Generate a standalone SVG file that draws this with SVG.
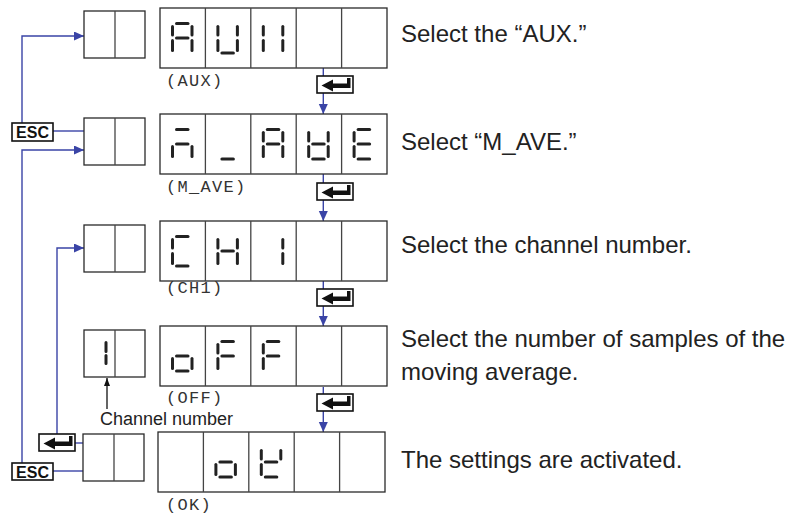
<svg xmlns="http://www.w3.org/2000/svg" xmlns:xlink="http://www.w3.org/1999/xlink" width="792" height="518" viewBox="0 0 792 518">
<style>
.box{fill:#fff;stroke:#2a2a2a;stroke-width:1.3}
.div{stroke:#444;stroke-width:1.3}
.seg{stroke:#222;stroke-width:3;stroke-linecap:round;fill:none}
.con{stroke:#3a44a6;stroke-width:1.4;fill:none}
.lbl{font-family:"Liberation Mono","Courier New",monospace;font-size:17px;letter-spacing:1.3px;fill:#333}
.txt{font-family:"Liberation Sans",Arial,Helvetica,sans-serif;font-size:24px;fill:#222}
.small{font-family:"Liberation Sans",Arial,Helvetica,sans-serif;font-size:18px;fill:#222}
.esc{font-family:"Liberation Sans",Arial,Helvetica,sans-serif;font-size:16px;font-weight:bold;fill:#111}
.key{fill:#fff;stroke:#111;stroke-width:1.6}
</style>
<defs>
<marker id="ab" markerUnits="userSpaceOnUse" markerWidth="10" markerHeight="10" refX="10" refY="4.5" orient="auto">
<path d="M0,0 L10,4.5 L0,9 z" fill="#3a44a6"/>
</marker>
<marker id="ak" markerUnits="userSpaceOnUse" markerWidth="8" markerHeight="7" refX="8" refY="3" orient="auto">
<path d="M0,0 L8,3 L0,6 z" fill="#111"/>
</marker>
<path id="sa" class="seg" d="M16.5 15.5H28"/>
<path id="sb" class="seg" d="M32 18.5V27"/>
<path id="sc" class="seg" d="M32 32.5V42.5"/>
<path id="sd" class="seg" d="M16.5 45H28"/>
<path id="se" class="seg" d="M12.5 32.5V42.5"/>
<path id="sf" class="seg" d="M12.5 18.5V27"/>
<path id="sg" class="seg" d="M16.5 30H28"/>
<g id="gA"><use xlink:href="#sa"/><use xlink:href="#sb"/><use xlink:href="#sc"/><use xlink:href="#se"/><use xlink:href="#sf"/><use xlink:href="#sg"/></g>
<g id="gU"><use xlink:href="#sb"/><use xlink:href="#sc"/><use xlink:href="#sd"/><use xlink:href="#se"/><use xlink:href="#sf"/></g>
<g id="gX"><use xlink:href="#sb"/><use xlink:href="#sc"/><use xlink:href="#se"/><use xlink:href="#sf"/></g>
<g id="gM"><use xlink:href="#sa"/><use xlink:href="#sg"/><use xlink:href="#sc"/><use xlink:href="#se"/></g>
<g id="gUS"><use xlink:href="#sd"/></g>
<g id="gV"><use xlink:href="#sb"/><use xlink:href="#sc"/><use xlink:href="#sd"/><use xlink:href="#se"/><use xlink:href="#sf"/><use xlink:href="#sg"/></g>
<g id="gE"><use xlink:href="#sa"/><use xlink:href="#sd"/><use xlink:href="#se"/><use xlink:href="#sf"/><use xlink:href="#sg"/></g>
<g id="gC"><use xlink:href="#sa"/><use xlink:href="#sd"/><use xlink:href="#se"/><use xlink:href="#sf"/></g>
<g id="gH"><use xlink:href="#sb"/><use xlink:href="#sc"/><use xlink:href="#se"/><use xlink:href="#sf"/><use xlink:href="#sg"/></g>
<g id="g1"><use xlink:href="#sb"/><use xlink:href="#sc"/></g>
<g id="go"><use xlink:href="#sc"/><use xlink:href="#sd"/><use xlink:href="#se"/><use xlink:href="#sg"/></g>
<g id="gF"><use xlink:href="#sa"/><use xlink:href="#se"/><use xlink:href="#sf"/><use xlink:href="#sg"/></g>
<g id="gK"><use xlink:href="#sb"/><use xlink:href="#sd"/><use xlink:href="#se"/><use xlink:href="#sf"/><use xlink:href="#sg"/></g>
<g id="enter">
<rect class="key" x="0" y="0" width="36" height="17"/>
<path d="M4.5 9.5L16 3.5V7.5H30V2H33.5V12H16V15.5Z" fill="#111"/>
</g>
<g id="disp">
<rect class="box" x="0" y="0" width="227" height="60"/>
<path class="div" d="M45.4 0V60M90.8 0V60M136.2 0V60M181.6 0V60"/>
</g>
<g id="sbox">
<rect class="box" x="0" y="0" width="61" height="47"/>
<path class="div" d="M31 0V47"/>
</g>
</defs>

<g id="connectors">
<path class="con" d="M22 123V36H84" marker-end="url(#ab)"/>
<path class="con" d="M53 131H84"/>
<path class="con" d="M22 463V150H84" marker-end="url(#ab)"/>
<path class="con" d="M57 434V248H84" marker-end="url(#ab)"/>
<path class="con" d="M75 443H83"/>
<path class="con" d="M53 471H83"/>
<path class="con" d="M323.3 68V76"/>
<path class="con" d="M323.3 93V114" marker-end="url(#ab)"/>
<path class="con" d="M323.3 174V183"/>
<path class="con" d="M323.3 200V221" marker-end="url(#ab)"/>
<path class="con" d="M323.3 281V289"/>
<path class="con" d="M323.3 306V326" marker-end="url(#ab)"/>
<path class="con" d="M323.3 387V394"/>
<path class="con" d="M323.3 411V432" marker-end="url(#ab)"/>
<path d="M107 409V378" stroke="#111" stroke-width="1.3" marker-end="url(#ak)"/>
</g>

<g id="small1"><use xlink:href="#sbox" x="84" y="11"/></g>
<g id="small2"><use xlink:href="#sbox" x="84" y="118"/></g>
<g id="small3"><use xlink:href="#sbox" x="84" y="225"/></g>
<g id="small4"><use xlink:href="#sbox" x="84" y="330"/>
<path class="seg" d="M106 342.5V351.5M106 355.5V363.5"/></g>
<g id="small5"><use xlink:href="#sbox" x="83" y="434"/></g>

<g id="display1">
<use xlink:href="#disp" x="160" y="8"/>
<use xlink:href="#gA" x="160" y="8"/>
<use xlink:href="#gU" x="205.4" y="8"/>
<use xlink:href="#gX" x="250.8" y="8"/>
<text class="lbl" x="166" y="86">(AUX)</text>
</g>
<g id="display2">
<use xlink:href="#disp" x="160" y="114"/>
<use xlink:href="#gM" x="160" y="114"/>
<use xlink:href="#gUS" x="205.4" y="114"/>
<use xlink:href="#gA" x="250.8" y="114"/>
<use xlink:href="#gV" x="296.2" y="114"/>
<use xlink:href="#gE" x="341.6" y="114"/>
<text class="lbl" x="166" y="192">(M_AVE)</text>
</g>
<g id="display3">
<use xlink:href="#disp" x="160" y="221"/>
<use xlink:href="#gC" x="160" y="221"/>
<use xlink:href="#gH" x="205.4" y="221"/>
<use xlink:href="#g1" x="250.8" y="221"/>
<text class="lbl" x="166" y="293">(CH1)</text>
</g>
<g id="display4">
<use xlink:href="#disp" x="160" y="326"/>
<use xlink:href="#go" x="160" y="326"/>
<use xlink:href="#gF" x="205.4" y="326"/>
<use xlink:href="#gF" x="250.8" y="326"/>
<text class="lbl" x="166" y="403">(OFF)</text>
</g>
<g id="display5">
<use xlink:href="#disp" x="158" y="432"/>
<use xlink:href="#go" x="203.4" y="432"/>
<use xlink:href="#gK" x="248.8" y="432"/>
<text class="lbl" x="166" y="510">(OK)</text>
</g>

<g id="enter1"><use xlink:href="#enter" x="317" y="76"/></g>
<g id="enter2"><use xlink:href="#enter" x="317" y="183"/></g>
<g id="enter3"><use xlink:href="#enter" x="317" y="289"/></g>
<g id="enter4"><use xlink:href="#enter" x="317" y="394"/></g>
<g id="enter5"><use xlink:href="#enter" x="39" y="434"/></g>

<g id="esc1"><rect class="key" x="12" y="123" width="41" height="18"/><text class="esc" x="32.5" y="137.5" text-anchor="middle">ESC</text></g>
<g id="esc2"><rect class="key" x="12" y="463" width="41" height="17"/><text class="esc" x="32.5" y="478" text-anchor="middle">ESC</text></g>

<g id="channel-label"><text class="small" x="100" y="425">Channel number</text></g>

<g id="descriptions">
<text class="txt" x="401" y="42">Select the “AUX.”</text>
<text class="txt" x="401" y="150">Select “M_AVE.”</text>
<text class="txt" x="401" y="253">Select the channel number.</text>
<text class="txt" x="401" y="347">Select the number of samples of the</text>
<text class="txt" x="401" y="380">moving average.</text>
<text class="txt" x="401" y="468">The settings are activated.</text>
</g>
</svg>
